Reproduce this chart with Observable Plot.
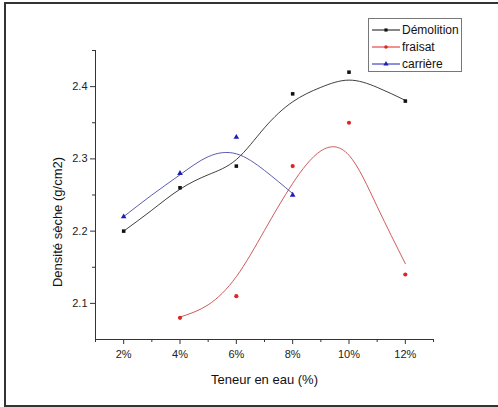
<!DOCTYPE html>
<html>
<head>
<meta charset="utf-8">
<script src="https://cdn.jsdelivr.net/npm/d3@7"></script>
<script src="https://cdn.jsdelivr.net/npm/@observablehq/plot@0.6"></script>
<style>
  html, body { margin: 0; padding: 0; background: #fff; }
  #wrap { position: relative; width: 498px; height: 407px; overflow: hidden; font-family: "Liberation Sans", Arial, sans-serif; }
  #frame { position: absolute; left: 4px; top: 2px; width: 510px; height: 405px; box-sizing: border-box; border: 2px solid #333; pointer-events: none; }
  #chart { position: absolute; left: 0; top: 0; }
  #legend { position: absolute; left: 368px; top: 18px; width: 94px; height: 54px; box-sizing: border-box; border: 1px solid #777; background: #fff; }
  .row { position: absolute; left: 0; height: 16px; display: flex; align-items: center; font-size: 12px; color: #111; white-space: nowrap; }
  .row svg { margin-left: 3px; margin-right: 2px; }
</style>
</head>
<body>
<div id="wrap">
  <div id="chart"></div>
  <div id="legend"></div>
  <div id="frame"></div>
</div>
<script>
// ---- data ----
const seriesNames = ["Démolition", "fraisat", "carrière"];
const seriesColors = ["#111111", "#e02424", "#1e1eb4"];
const curveColors = ["#2a2a2a", "#c84848", "#4a4aa4"];
const seriesSymbols = ["square", "circle", "triangle"];

const waterContent = [2, 4, 6, 8, 10, 12];          // %
const demolition = [2.20, 2.26, 2.29, 2.39, 2.42, 2.38];
const fraisatX = [4, 6, 8, 10, 12];
const fraisat = [2.08, 2.11, 2.29, 2.35, 2.14];
const carriereX = [2, 4, 6, 8];
const carriere = [2.22, 2.28, 2.33, 2.25];

// fitted curves
const demolitionFitX = [2, 3, 4, 5, 6, 7, 8, 9, 10, 11, 12];
const demolitionFit = [2.200, 2.229, 2.258, 2.278, 2.299, 2.343, 2.379, 2.399, 2.409, 2.399, 2.381];
const fraisatFitX = [4, 5, 6, 7, 8, 9, 10, 11, 12];
const fraisatFit = [2.081, 2.098, 2.137, 2.201, 2.266, 2.311, 2.305, 2.234, 2.155];
const carriereFitX = [2, 3, 4, 5, 6, 7, 8];
const carriereFit = [2.220, 2.250, 2.278, 2.303, 2.307, 2.284, 2.252];

const xMajor = [2, 4, 6, 8, 10, 12];
const xMinor = [1, 3, 5, 7, 9, 11, 13];
const yMajor = [2.1, 2.2, 2.3, 2.4];
const yMinor = [2.15, 2.25, 2.35, 2.45];
const xTitle = "Teneur en eau (%)";
const yTitle = "Densité sèche (g/cm2)";

// ---- tables ----
const pts = (xs, ys, s) => xs.map((x, i) => ({x, y: ys[i], s}));
const points = [
  ...pts(waterContent, demolition, 0),
  ...pts(fraisatX, fraisat, 1),
  ...pts(carriereX, carriere, 2)
];
const fits = [
  pts(demolitionFitX, demolitionFit, 0),
  pts(fraisatFitX, fraisatFit, 1),
  pts(carriereFitX, carriereFit, 2)
];

const chart = Plot.plot({
  width: 498,
  height: 407,
  marginLeft: 95,
  marginRight: 65,
  marginTop: 50,
  marginBottom: 68,
  style: {fontFamily: "Liberation Sans, Arial, sans-serif", fontSize: "11px", color: "#222", background: "transparent"},
  x: {domain: [1, 13]},
  y: {domain: [2.05, 2.45]},
  marks: [
    Plot.ruleX([1], {stroke: "#333", strokeWidth: 1}),
    Plot.ruleY([2.05], {stroke: "#333", strokeWidth: 1}),
    Plot.axisX(xMajor, {tickSize: 5, tickPadding: 6, tickFormat: d => d + "%", label: null, stroke: "#333", fontSize: 11}),
    Plot.axisX(xMinor, {tickSize: 3, tickFormat: () => "", label: null, stroke: "#333"}),
    Plot.axisY(yMajor, {tickSize: 5, tickPadding: 3, tickFormat: d3.format(".1f"), label: null, stroke: "#333", fontSize: 11}),
    Plot.axisY(yMinor, {tickSize: 3, tickFormat: () => "", label: null, stroke: "#333"}),
    ...fits.map((f, k) => Plot.line(f, {x: "x", y: "y", curve: "natural", stroke: curveColors[k], strokeWidth: 0.9})),
    ...[0, 1, 2].map(k => Plot.dot(points.filter(d => d.s === k), {
      x: "x", y: "y", symbol: seriesSymbols[k], fill: seriesColors[k], stroke: "none",
      r: k === 2 ? 2.1 : (k === 0 ? 2.0 : 2.1)
    })),
    Plot.text([xTitle], {frameAnchor: "bottom", dy: 40, lineAnchor: "middle", fontSize: 13, fill: "#111"}),
    Plot.text([yTitle], {frameAnchor: "left", dx: -38, dy: 27, rotate: -90, lineAnchor: "middle", textAnchor: "middle", fontSize: 13, fill: "#111"})
  ]
});
document.getElementById("chart").appendChild(chart);

// ---- legend ----
const legend = d3.select("#legend");
const symbolPath = {square: d3.symbolSquare, circle: d3.symbolCircle, triangle: d3.symbolTriangle};
seriesNames.forEach((name, k) => {
  const row = legend.append("div").attr("class", "row").style("top", (3 + k * 17) + "px");
  const svg = row.append("svg").attr("width", 28).attr("height", 16);
  svg.append("line").attr("x1", 0).attr("x2", 28).attr("y1", 8).attr("y2", 8)
    .attr("stroke", seriesColors[k]).attr("stroke-width", 1);
  svg.append("path").attr("transform", "translate(14,8)")
    .attr("d", d3.symbol(symbolPath[seriesSymbols[k]], k === 2 ? 12 : 10)())
    .attr("fill", seriesColors[k]);
  row.append("span").text(name);
});
</script>
</body>
</html>
